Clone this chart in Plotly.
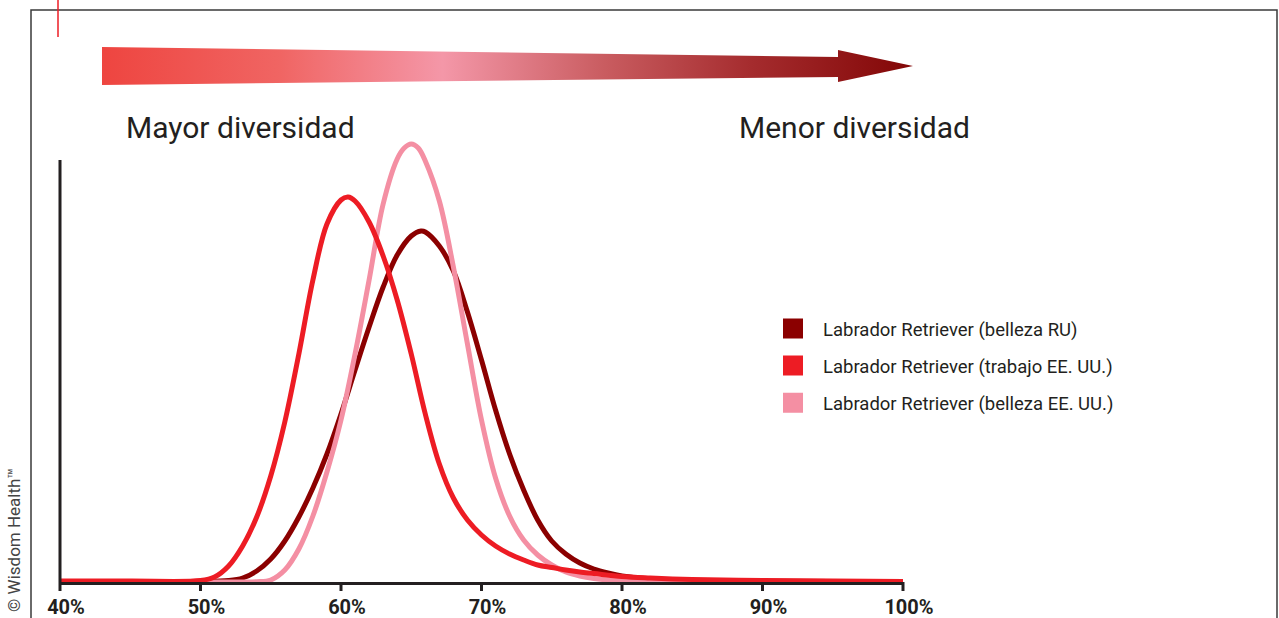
import plotly.graph_objects as go

# ---------------- data ----------------
series_names = [
    "Labrador Retriever (belleza RU)",
    "Labrador Retriever (trabajo EE. UU.)",
    "Labrador Retriever (belleza EE. UU.)",
]
series_colors = ["#8b0000", "#ed1c24", "#f48fa3"]

# belleza RU (dark red)
x_ru = [40, 50, 52, 53, 54, 55, 56, 57, 58, 59, 60, 61, 62, 63, 64, 65, 65.7, 66, 67, 68,
        69, 70, 71, 72, 73, 74, 75, 76, 77, 78, 79, 80, 82, 85, 90, 100]
y_ru = [0.5, 0.5, 1.5, 4, 11, 23, 41, 65, 94, 128, 168, 212, 255, 295, 327, 346, 351, 350, 336, 311,
        270, 222, 172, 128, 92, 62, 41, 28, 19, 13, 9, 6, 3, 1.5, 0.7, 0.3]

# trabajo EE. UU. (bright red)
x_tr = [40, 45, 50, 51, 52, 53, 54, 55, 56, 57, 58, 59, 60, 60.5, 61, 62, 63, 64, 65, 66,
        67, 68, 69, 70, 71, 72, 73, 74, 75, 76, 77, 78, 80, 82, 85, 90, 95, 100]
y_tr = [1, 1, 1.5, 5, 16, 36, 65, 106, 160, 228, 302, 358, 382, 385, 381, 360, 326, 282, 228, 168,
        118, 84, 62, 47, 36, 28, 22, 17, 14.5, 12, 10, 8.5, 5.5, 4, 2.5, 1.5, 1, 0.5]

# belleza EE. UU. (pink)
x_be = [40, 53, 54, 55, 56, 57, 58, 59, 60, 61, 62, 63, 64, 64.5, 65, 65.5, 66, 67, 68, 69, 70,
        71, 72, 73, 74, 75, 76, 77, 78, 79, 80, 85, 100]
y_be = [0, 0, 0.3, 2, 12, 33, 66, 110, 162, 228, 302, 378, 423, 434, 438, 434, 421, 381, 315, 238, 162,
        104, 66, 42, 27, 17, 10, 6, 3.5, 2, 1.2, 0.5, 0.3]

tick_vals = [40, 50, 60, 70, 80, 90, 100]
tick_labels = ["40%", "50%", "60%", "70%", "80%", "90%", "100%"]

label_left = "Mayor diversidad"
label_right = "Menor diversidad"
copyright_text = "© Wisdom Health™"

# ---------------- figure ----------------
W, H = 1279, 618
FONT = "Roboto"
DARK = "#231f20"
X_RANGE = [40, 100]

fig = go.Figure()

curves = [(x_ru, y_ru, 0), (x_be, y_be, 2), (x_tr, y_tr, 1)]
for xs, ys, i in curves:
    fig.add_trace(go.Scatter(
        x=xs, y=ys, mode="lines",
        line=dict(color=series_colors[i], width=5, shape="spline", smoothing=1.0),
        showlegend=False, hoverinfo="skip", xaxis="x", yaxis="y"))

# legend entries (squares)
for i, name in enumerate(series_names):
    fig.add_trace(go.Scatter(
        x=[None], y=[None], mode="markers", name=name,
        marker=dict(symbol="square", size=16, color=series_colors[i],
                    line=dict(color=series_colors[i], width=4)),
        legendgroup=f"g{i}", xaxis="x", yaxis="y"))

# gradient arrow, drawn on a pixel-space overlay axis
arrow_x = [102, 838, 838, 913, 838, 838, 102, 102]
arrow_y = [47, 57, 50, 66, 82, 77, 85, 47]
fig.add_trace(go.Scatter(
    x=arrow_x, y=arrow_y, mode="lines", fill="toself", line=dict(width=0),
    fillgradient=dict(type="horizontal", colorscale=[
        [0.0, "#ee4540"], [0.22, "#f06563"], [0.42, "#f497a8"],
        [0.62, "#c95c60"], [0.8, "#a52c2e"], [1.0, "#820606"]]),
    showlegend=False, hoverinfo="skip", xaxis="x2", yaxis="y2"))

x_dom = [60 / W, 903 / W]
y_dom = [(H - 582) / H, (H - 132) / H]

fig.update_layout(
    width=W, height=H,
    margin=dict(l=0, r=0, t=0, b=0),
    paper_bgcolor="white", plot_bgcolor="rgba(0,0,0,0)",
    font=dict(family=FONT, color=DARK),
    xaxis=dict(domain=x_dom, range=X_RANGE, showgrid=False, zeroline=False,
               showline=True, linecolor=DARK, linewidth=3,
               ticks="", tickvals=tick_vals, ticktext=tick_labels,
               ticklabelstandoff=5, ticklabelshift=6,
               tickfont=dict(family=FONT, size=20, color=DARK, weight="bold"),
               automargin=False, fixedrange=True),
    yaxis=dict(domain=y_dom, range=[0, 450], showgrid=False, zeroline=False,
               showline=False, showticklabels=False, ticks="",
               automargin=False, fixedrange=True),
    xaxis2=dict(domain=[0, 1], range=[0, W], visible=False, anchor="y2", fixedrange=True),
    yaxis2=dict(domain=[0, 1], range=[H, 0], visible=False, anchor="x2", fixedrange=True),
    showlegend=True,
    legend=dict(x=763 / W, y=1 - 310 / H, xanchor="left", yanchor="top",
                font=dict(family=FONT, size=18.5, color=DARK),
                traceorder="grouped", tracegroupgap=10, itemwidth=50,
                bgcolor="rgba(0,0,0,0)", itemclick=False, itemdoubleclick=False),
)

# tick marks below the baseline (one per tick value)
for v in tick_vals:
    px = x_dom[0] + (v - X_RANGE[0]) / (X_RANGE[1] - X_RANGE[0]) * (x_dom[1] - x_dom[0])
    fig.add_shape(type="line", xref="paper", yref="paper", x0=px, x1=px,
                  y0=y_dom[0], y1=y_dom[0] - 9 / H, line=dict(color=DARK, width=3))

# y axis line (stops below the pink peak)
fig.add_shape(type="line", xref="paper", yref="y", x0=x_dom[0], x1=x_dom[0], y0=0, y1=422,
              line=dict(color=DARK, width=3))
# outer frame
fig.add_shape(type="rect", xref="paper", yref="paper", x0=31 / W, x1=1277 / W,
              y0=-0.1, y1=1 - 10 / H, line=dict(color="#3a3a3a", width=1.5))
# small red mark
fig.add_shape(type="line", xref="paper", yref="paper", x0=58 / W, x1=58 / W,
              y0=1, y1=1 - 37 / H, line=dict(color="#ed1c24", width=1.5))

fig.add_annotation(text=label_left, xref="paper", yref="paper", x=124 / W, y=1 - 127 / H,
                   xanchor="left", yanchor="middle", showarrow=False,
                   font=dict(family=FONT, size=30, color=DARK))
fig.add_annotation(text=label_right, xref="paper", yref="paper", x=737 / W, y=1 - 127 / H,
                   xanchor="left", yanchor="middle", showarrow=False,
                   font=dict(family=FONT, size=30, color=DARK))
fig.add_annotation(text=copyright_text, xref="paper", yref="paper", x=14 / W, y=1 - 540 / H,
                   xanchor="center", yanchor="middle", showarrow=False, textangle=-90,
                   font=dict(family=FONT, size=17, color="#444444"))

fig.write_html("out.html", config={"displayModeBar": False},
               post_script="document.body.style.margin='0';document.body.style.overflow='hidden';")
